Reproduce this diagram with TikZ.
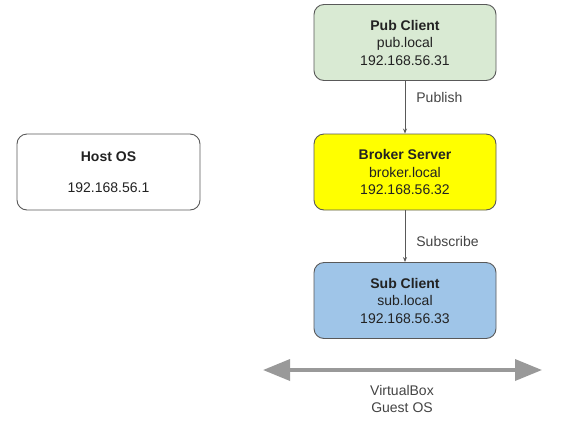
\documentclass[tikz,border=0pt]{standalone}
\usepackage{fontspec}
\setmainfont{Liberation Sans}
\usetikzlibrary{arrows.meta}
\definecolor{pubgreen}{HTML}{D9EAD3}
\definecolor{brokeryellow}{HTML}{FFFF00}
\definecolor{subblue}{HTML}{9FC5E8}
\definecolor{edgegray}{HTML}{595959}
\definecolor{arrowgray}{HTML}{999999}
\definecolor{txt}{HTML}{222222}
\tikzset{
  hostbox/.style={draw=edgegray, line width=0.9pt, rounded corners=10pt, minimum width=182pt, minimum height=76pt, align=center, inner sep=0pt, font=\fontsize{14}{17.5}\selectfont, text=txt},
  flowarrow/.style={draw=edgegray, line width=0.8pt, -{Stealth[length=5pt,width=4pt]}},
  lbl/.style={font=\fontsize{14}{16}\selectfont, text=txt!85, anchor=west, inner sep=0pt},
}
\begin{document}
\begin{tikzpicture}[x=1pt,y=-1pt]
\useasboundingbox (0,0) rectangle (564,421);
\node[hostbox, fill=pubgreen] (pub) at (405,42.5) {\textbf{Pub Client}\\pub.local\\192.168.56.31};
\node[hostbox, fill=brokeryellow] (broker) at (405,172) {\textbf{Broker Server}\\broker.local\\192.168.56.32};
\node[hostbox, fill=subblue] (sub) at (405,300.5) {\textbf{Sub Client}\\sub.local\\192.168.56.33};
\node[hostbox, fill=white, minimum width=183pt] (host) at (108.5,172) {\textbf{Host OS}\\[13pt]192.168.56.1};
\draw[flowarrow] (pub.south) -- node[lbl, pos=0.32, xshift=11pt] {Publish} (broker.north);
\draw[flowarrow] (broker.south) -- node[lbl, pos=0.6, xshift=11pt] {Subscribe} (sub.north);
\coordinate (vl) at (263,370);
\coordinate (vr) at (542,370);
\draw[arrowgray, line width=3.5pt, {Triangle[length=27pt,width=21pt]}-{Triangle[length=27pt,width=21pt]}] (vl) -- (vr);
\node[font=\fontsize{14}{17}\selectfont, text=txt!85, align=center] (vbox) at (402,399) {VirtualBox\\Guest OS};
\end{tikzpicture}
\end{document}
